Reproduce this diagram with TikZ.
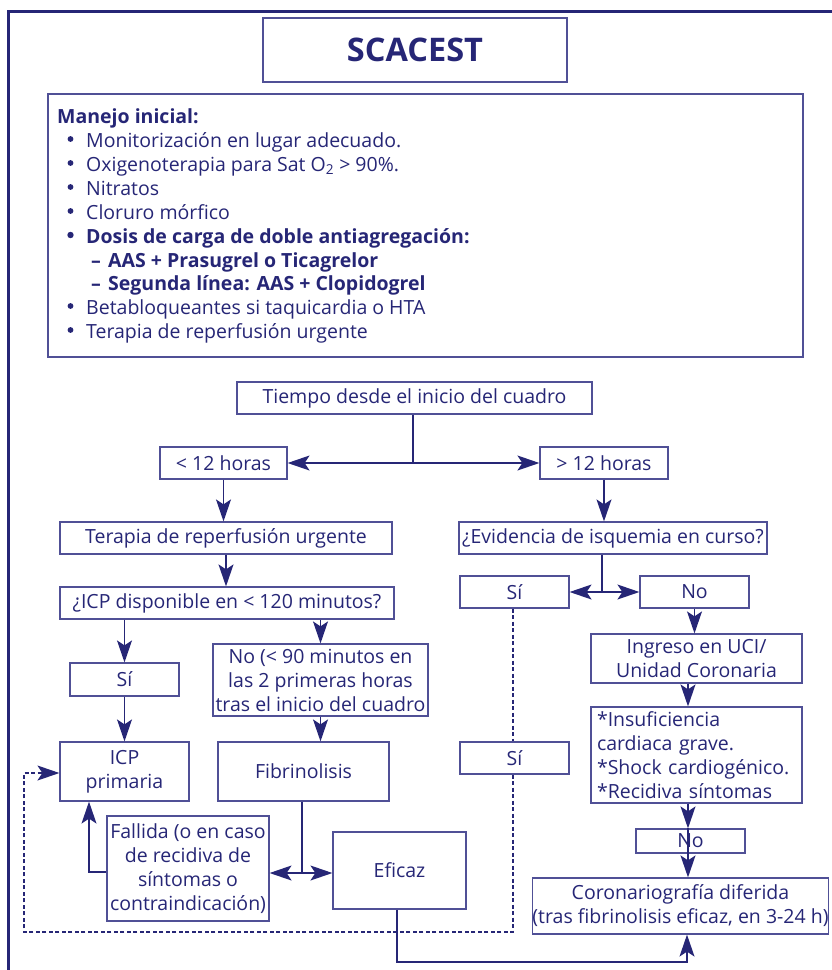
\documentclass[tikz,border=0pt]{standalone}
\usepackage{fontspec}
\setmainfont{Open Sans}
\usetikzlibrary{arrows.meta}
\definecolor{navy}{RGB}{38,38,118}
\definecolor{bord}{RGB}{80,80,150}
\newcommand{\dashitem}{\hspace*{5pt}\makebox[17pt][l]{\textbf{–}}}
\begin{document}
\begin{tikzpicture}[x=1pt,y=-1pt,
  every node/.style={text=navy, font=\fontsize{19.5}{24}\selectfont},
  box/.style={draw=bord, line width=1.2pt, fill=white, inner sep=0pt, align=center},
  mline/.style={anchor=base west, inner sep=0pt},
  conn/.style={draw=navy, line width=1.4pt},
  arr/.style={conn, -{Stealth[length=22pt,width=15pt,inset=5pt]}},
  darr/.style={conn, {Stealth[length=22pt,width=15pt,inset=5pt]}-{Stealth[length=22pt,width=15pt,inset=5pt]}},
  dline/.style={draw=navy, line width=1.2pt, dash pattern=on 4pt off 2.5pt}
]
\useasboundingbox (0,0) rectangle (832,970);
% outer frame
\draw[navy, line width=3pt] (832,11) -- (8,11) -- (8,970);

% title
\node[box, minimum width=304pt, minimum height=64pt, font=\fontsize{32.5}{36}\selectfont\bfseries] (title) at (415,50) {SCACEST};

% initial management box
\node[box, minimum width=755pt, minimum height=263pt] (manejo) at (425.5,225.5) {};
\node[mline] (m0) at (57,123) {\textbf{Manejo inicial:}};
\node[mline] (m1) at (86,147) {Monitorización en lugar adecuado.};
\node[mline] (m2) at (86,171) {Oxigenoterapia para Sat O\textsubscript{2} > 90\%.};
\node[mline] (m3) at (86,195) {Nitratos};
\node[mline] (m4) at (86,219) {Cloruro mórfico};
\node[mline] (m5) at (86,243) {\bfseries Dosis de carga de doble antiagregación:};
\node[mline] (m6) at (86,267) {\bfseries\dashitem AAS + Prasugrel o Ticagrelor};
\node[mline] (m7) at (86,290) {\bfseries\dashitem Segunda línea: AAS + Clopidogrel};
\node[mline] (m8) at (86,314) {Betabloqueantes si taquicardia o HTA};
\node[mline] (m9) at (86,338) {Terapia de reperfusión urgente};
\foreach \y in {147,171,195,219,314,338} \fill[navy] (70.5,\y-8) circle (2.9pt);
\fill[navy] (70.5,235) circle (3.2pt);

% flowchart nodes
\node[box, minimum width=355pt, minimum height=32pt] (tiempo) at (414.5,398) {Tiempo desde el inicio del cuadro};
\node[box, minimum width=127pt, minimum height=32pt] (lt12) at (223.5,463) {< 12 horas};
\node[box, minimum width=128pt, minimum height=32pt] (gt12) at (604,463) {> 12 horas};
\node[box, minimum width=332pt, minimum height=32pt] (terapia) at (226,538) {Terapia de reperfusión urgente};
\node[box, minimum width=334pt, minimum height=32pt] (icpdisp) at (227,603) {¿ICP disponible en < 120 minutos?};
\node[box, minimum width=308pt, minimum height=32pt] (evid) at (613,538) {¿Evidencia de isquemia en curso?};
\node[box, minimum width=109pt, minimum height=33pt] (siL) at (124.5,679.5) {Sí};
\node[box, minimum width=215pt, minimum height=72pt] (noL) at (320.5,680) {No (< 90 minutos en\\las 2 primeras horas\\tras el inicio del cuadro};
\node[box, minimum width=109pt, minimum height=32pt] (siR) at (514.5,592) {Sí};
\node[box, minimum width=109pt, minimum height=32pt] (noR) at (694.5,592) {No};
\node[box, minimum width=211pt, minimum height=49pt] (ingreso) at (696.5,658.5) {Ingreso en UCI/\\Unidad Coronaria};
\node[box, minimum width=129pt, minimum height=59pt] (icpprim) at (124.5,771.5) {ICP\\primaria};
\node[box, minimum width=171pt, minimum height=59pt] (fibri) at (303.5,771.5) {Fibrinolisis};
\node[box, minimum width=109pt, minimum height=32pt] (siR2) at (514.5,758) {Sí};
\node[box, minimum height=96pt, text width=199pt, inner xsep=6pt, align=left] (insuf) at (696.5,755) {*Insuficiencia\\{}cardiaca grave.\\{}*Shock cardiogénico.\\{}*Recidiva síntomas};
\node[box, minimum width=162pt, minimum height=105pt] (fallida) at (188,868.5) {Fallida (o en caso\\de recidiva de\\síntomas o\\contraindicación)};
\node[box, minimum width=133pt, minimum height=77pt] (eficaz) at (399.5,870.5) {Eficaz};
\node[box, minimum width=109pt, minimum height=24pt] (noS) at (690.5,841) {No};
\node[box, minimum width=291pt, minimum height=56pt] (coron) at (680.5,906) {Coronariografía diferida\\(tras fibrinolisis eficaz, en 3-24 h)};

% junctions
\coordinate (j1) at (413,463);
\coordinate (j2) at (302,873);
\coordinate (j3) at (89,872);
\coordinate (j4) at (602,592);
\coordinate (cx) at (688,0);
\coordinate (d1) at (513,932);
\coordinate (d2) at (24,932);
\coordinate (d3) at (24,773);
\coordinate (e1) at (397,962);
\coordinate (e2) at (687,962);

% connectors
\draw[conn] (j1 |- tiempo.south) -- (j1);
\draw[arr] (j1) -- (lt12.east |- j1);
\draw[arr] (j1) -- (gt12.west |- j1);
\draw[arr] (lt12.south) -- (terapia.north -| lt12.south);
\draw[arr] (terapia.south) -- (icpdisp.north -| terapia.south);
\draw[arr] (icpdisp.south -| siL.north) -- (siL.north);
\draw[arr] (icpdisp.south -| noL.north) -- (noL.north);
\draw[arr] (siL.south) -- (icpprim.north -| siL.south);
\draw[arr] (noL.south) -- (fibri.north -| noL.south);
\draw[conn] (j2 |- fibri.south) -- (j2);
\draw[darr] (fallida.east |- j2) -- (eficaz.west |- j2);
\draw[arr] (j3 -| fallida.west) -- (j3) -- (j3 |- icpprim.south);
\draw[arr] (gt12.south) -- (evid.north -| gt12.south);
\draw[conn] (j4 |- evid.south) -- (j4);
\draw[darr] (siR.east |- j4) -- (noR.west |- j4);
\draw[arr] (noR.south) -- (ingreso.north -| noR.south);
\draw[arr] (ingreso.south -| cx) -- (insuf.north -| cx);
\draw[arr] (insuf.south -| cx) -- (noS.north -| cx);
\draw[arr] (noS.north -| cx) -- (coron.north -| cx);
\draw[arr] (eficaz.south -| e1) -- (e1) -- (e2) -- (e2 |- coron.south);
\draw[dline] (siR.south -| d1) -- (siR2.north -| d1);
\draw[dline, -{Stealth[length=22pt,width=15pt,inset=5pt]}] (siR2.south -| d1) -- (d1) -- (d2) -- (d3) -- (icpprim.west |- d3);
\end{tikzpicture}
\end{document}
